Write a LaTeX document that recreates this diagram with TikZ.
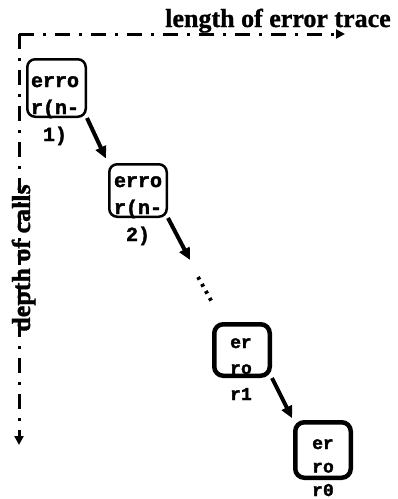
\documentclass[tikz,border=0pt]{standalone}
\usepackage{fontspec}
\setmainfont{Liberation Serif}[BoldFeatures={FakeBold=1}]
\setmonofont{Liberation Mono}[BoldFeatures={FakeBold=2}]
\usetikzlibrary{arrows.meta}
\newcommand\stk[1]{\begin{tabular}[t]{@{}c@{}}#1\end{tabular}}
\tikzset{
  axis/.style={line width=3pt, dash pattern=on 15pt off 9pt on 3pt off 9pt, -{Triangle[length=9pt,width=9pt]}},
  lbl/.style={font=\fontsize{26}{30}\selectfont\bfseries, inner sep=0pt, anchor=base},
  callbox/.style={draw, rounded corners=8pt, line width=2.5pt, inner sep=0pt},
  basebox/.style={draw, rounded corners=9pt, line width=4.5pt, inner sep=0pt},
  ntxt/.style={font=\fontsize{20}{27}\selectfont\ttfamily\bfseries, inner sep=0pt, anchor=base},
  rtxt/.style={font=\fontsize{18}{#1}\selectfont\ttfamily\bfseries, inner sep=0pt, anchor=base},
  flow/.style={line width=4pt, -{Triangle[length=12pt,width=11pt]}},
  dots/.style={line width=3.8pt, dash pattern=on 3pt off 5pt}
}
\begin{document}
\begin{tikzpicture}[x=1pt,y=-1pt]
\useasboundingbox (0,0) rectangle (398,499);
% axes
\coordinate (o) at (19,34);
\coordinate (xe) at (345,34);
\coordinate (ye) at (19,445);
\draw[axis] (o) -- (xe);
\draw[axis] (o) -- (ye);
\node[lbl] (xl) at (278,27) {length of error trace};
\node[lbl, rotate=90] (yl) at (30,258) {depth of calls};
% boxes
\node[callbox, minimum width=58.5pt, minimum height=57.5pt] (n1) at (56.5,88) {};
\node[ntxt] (t1) at (55,87) {\stk{erro\\r(n-\\1)}};
\node[callbox, minimum width=57.5pt, minimum height=52.5pt] (n2) at (138,190.5) {};
\node[ntxt] (t2) at (138,187) {\stk{erro\\r(n-\\2)}};
\node[basebox, minimum width=55.5pt, minimum height=51.5pt] (r1) at (242,350) {};
\node[rtxt=26] (t3) at (241,348) {\stk{er\\ro\\r1}};
\node[basebox, minimum width=55.5pt, minimum height=55.5pt] (r0) at (323,450) {};
\node[rtxt=23.5] (t4) at (323,449) {\stk{er\\ro\\r0}};
% connectors
\coordinate (a2) at (190,260);
\coordinate (d1) at (198,277);
\coordinate (d2) at (213,304);
\draw[flow, shorten >=5pt] (n1.south east) -- (n2.north west);
\draw[flow] (n2.south east) -- (a2);
\draw[dots] (d1) -- (d2);
\draw[flow, shorten >=2pt] (r1.south east) -- (r0.north west);
\end{tikzpicture}
\end{document}
